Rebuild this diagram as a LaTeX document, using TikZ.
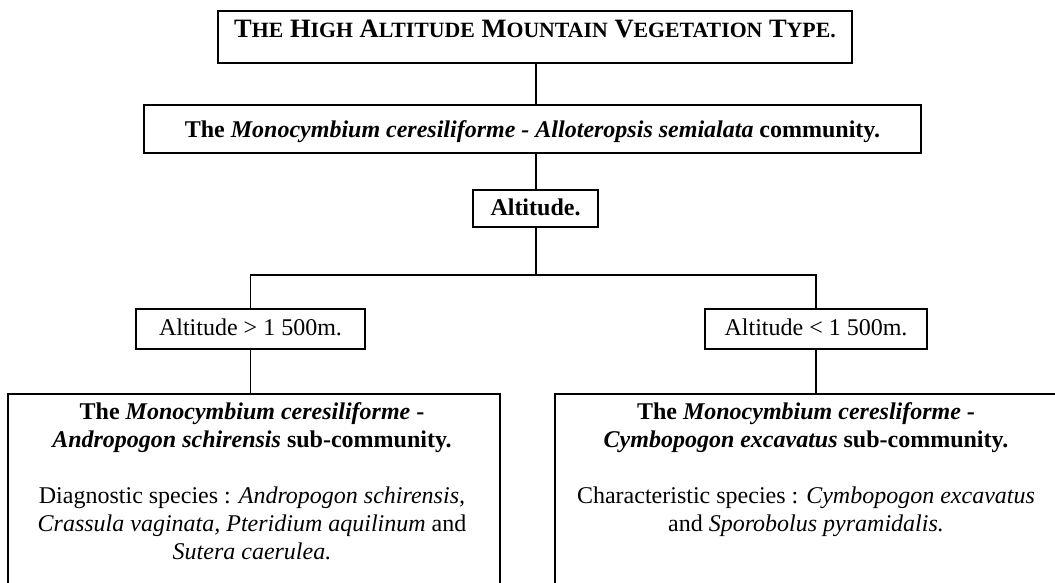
\documentclass[tikz,border=0pt]{standalone}
\usepackage{fontspec}
\setmainfont{Liberation Serif}
\newcommand{\fakesc}[1]{{\fontsize{21.8}{25}\selectfont #1}}
\begin{document}
\begin{tikzpicture}[x=1pt,y=-1pt,
  box/.style={draw, line width=1.5pt, inner xsep=0pt, inner ysep=0pt, align=center},
  conn/.style={line width=1.5pt},
  txt/.style={font=\fontsize{24}{28}\selectfont},
  bigtxt/.style={font=\fontsize{26.5}{30}\selectfont\bfseries}]
\useasboundingbox (0,0) rectangle (1055,582);
\clip (0,0) rectangle (1055,582);

\node[box, bigtxt, minimum width=634pt, text height=26pt, text depth=26pt] (top) at (535,37)
  {T\fakesc{HE} H\fakesc{IGH} A\fakesc{LTITUDE} M\fakesc{OUNTAIN} V\fakesc{EGETATION} T\fakesc{YPE.}};

\node[box, txt, minimum width=777pt, text height=32pt, text depth=16pt, anchor=base] (com) at (532.5,137)
  {\textbf{The \textit{Monocymbium ceresiliforme - Alloteropsis semialata} community.}};

\node[box, txt, minimum width=125pt, text height=25pt, text depth=12pt, anchor=base] (alt) at (535.5,215)
  {\textbf{Altitude.}};

\node[box, txt, minimum width=229pt, text height=26pt, text depth=14pt, anchor=base] (altl) at (250.5,335)
  {Altitude > 1 500m.};
\node[box, txt, minimum width=222pt, text height=26pt, text depth=14pt, anchor=base] (altr) at (816,335)
  {Altitude < 1 500m.};

\node[box, minimum width=492pt, minimum height=260pt, anchor=north] (lbox) at (254,393) {};
\node[box, minimum width=516pt, minimum height=260pt, anchor=north] (rbox) at (813,393) {};

\node[txt, align=center, inner sep=0pt, anchor=north] (ltext) at (252,402)
  {\textbf{The \textit{Monocymbium ceresiliforme} -}\\
   \textbf{\textit{Andropogon schirensis} sub-community.}\\[28pt]
   Diagnostic species : \textit{Andropogon schirensis,}\\
   \textit{Crassula vaginata, Pteridium aquilinum} and\\
   \textit{Sutera caerulea.}};

\node[txt, align=center, inner sep=0pt, anchor=north] (rtext) at (806,402)
  {\textbf{The \textit{Monocymbium ceresliforme} -}\\
   \textbf{\textit{Cymbopogon excavatus} sub-community.}\\[28pt]
   Characteristic species : \textit{Cymbopogon excavatus}\\
   and \textit{Sporobolus pyramidalis.}};

\coordinate (br) at (536,275);
\draw[conn] (top.south -| br) -- (com.north -| br);
\draw[conn] (com.south -| br) -- (alt.north -| br);
\draw[conn] (alt.south -| br) -- (br);
\draw[conn] (altl.north) -- (altl.north |- br) -- (altr.north |- br) -- (altr.north);
\draw[conn] (altl.south) -- (altl.south |- lbox.north);
\draw[conn] (altr.south) -- (altr.south |- rbox.north);
\end{tikzpicture}
\end{document}
